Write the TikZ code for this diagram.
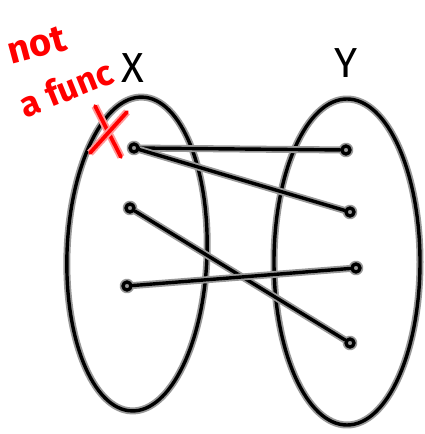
\documentclass[tikz,border=0pt]{standalone}
\usepackage{fontspec}
\setmainfont{Fira Sans}
\usetikzlibrary{shapes.geometric}
\begin{document}
\begin{tikzpicture}[x=1pt,y=-1pt,
  hand/.style={draw=black, line width=3.4pt, line cap=round, line join=round,
               preaction={draw=black!40, line width=7pt}},
  redhand/.style={draw=red, line width=3.8pt, line cap=round,
               preaction={draw=red!40, line width=7.5pt}},
  setshape/.style={ellipse, hand, inner sep=0pt},
  pt/.style={circle, hand, inner sep=0pt, minimum size=8pt},
  lbl/.style={font=\fontsize{42}{42}\selectfont, inner sep=0pt},
  redtxt/.style={text=red, inner sep=0pt}]
\useasboundingbox (0,0) rectangle (425,434);
% sets
\node[setshape, minimum width=140pt, minimum height=314pt, rotate=-2] (X) at (137,254) {};
\node[setshape, minimum width=146pt, minimum height=326pt] (Y) at (347,262) {};
% labels
\node[lbl] (lx) at (133,68) {X};
\node[lbl] (ly) at (346,63) {Y};
% points
\node[pt] (x1) at (134,148) {};
\node[pt] (x2) at (130,208) {};
\node[pt] (x3) at (127,286) {};
\node[pt] (y1) at (346,150) {};
\node[pt] (y2) at (350,212) {};
\node[pt] (y3) at (356,268) {};
\node[pt] (y4) at (350,343) {};
% mappings
\draw[hand] (x1) -- (y1);
\draw[hand] (x1) -- (y2);
\draw[hand] (x2) -- (y4);
\draw[hand] (x3) -- (y3);
% red annotation
\node[redtxt, font=\bfseries\fontsize{38}{38}\selectfont, rotate=15] (nt) at (37,45) {not};
\node[redtxt, font=\bfseries\fontsize{35}{35}\selectfont, rotate=22] (af) at (66,88) {a func};
\coordinate (ra) at (95,106);
\coordinate (rb) at (121,157);
\coordinate (rc) at (127,112);
\coordinate (rd) at (90,153);
\draw[redhand] (ra) -- (rb);
\draw[redhand] (rc) -- (rd);
\end{tikzpicture}
\end{document}
